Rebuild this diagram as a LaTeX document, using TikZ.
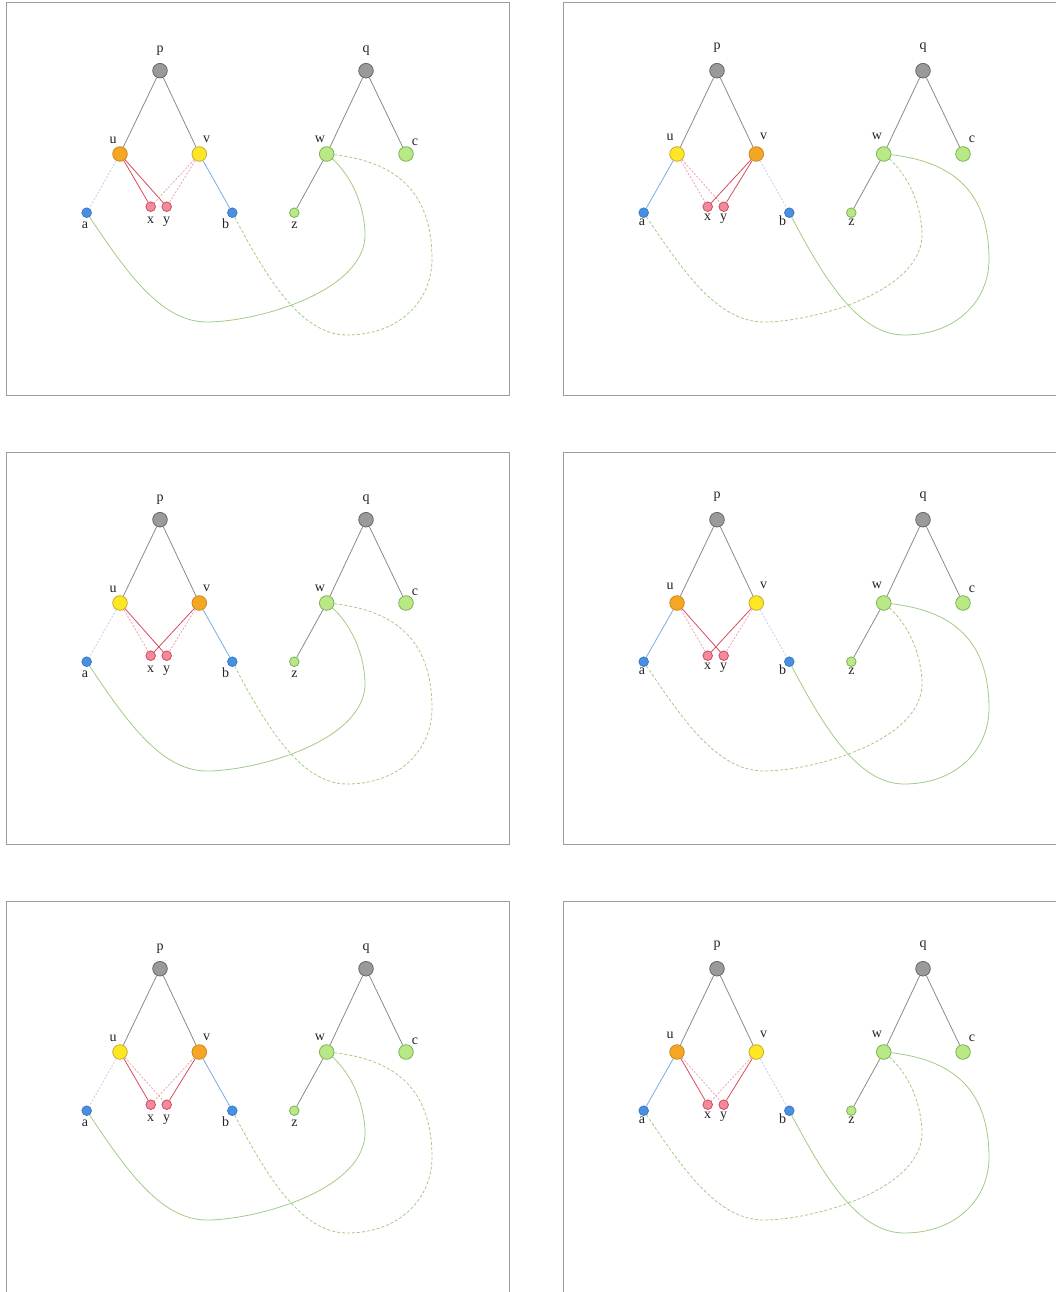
\documentclass[tikz,border=0pt]{standalone}
\usepackage{fontspec}
\setmainfont{Liberation Serif}
\pgfdeclarelayer{bg}
\pgfsetlayers{bg,main}
\definecolor{nGray}{HTML}{9A9A9A}
\definecolor{nGrayD}{HTML}{666666}
\definecolor{nOrange}{HTML}{F5A623}
\definecolor{nOrangeD}{HTML}{C98A22}
\definecolor{nYellow}{HTML}{FDE624}
\definecolor{nYellowD}{HTML}{C9A930}
\definecolor{nGreen}{HTML}{B8E986}
\definecolor{nGreenD}{HTML}{7DB155}
\definecolor{nBlue}{HTML}{4A90E2}
\definecolor{nBlueD}{HTML}{3A78C6}
\definecolor{nPink}{HTML}{F28A9B}
\definecolor{nPinkD}{HTML}{D4495E}
\definecolor{eGray}{HTML}{8A8A8A}
\definecolor{eRed}{HTML}{D94A5C}
\definecolor{eRedL}{HTML}{EDA3AD}
\definecolor{eBlue}{HTML}{7BAAE3}
\definecolor{eBlueL}{HTML}{B9D2F0}
\definecolor{eGreen}{HTML}{A2CB84}
\definecolor{frameC}{HTML}{9C9C9C}
\definecolor{txt}{HTML}{222222}
\tikzset{
  big/.style={circle, minimum size=14.6pt, inner sep=0pt, line width=0.8pt},
  small/.style={circle, minimum size=9.6pt, inner sep=0pt, line width=0.8pt},
  graynode/.style={big, fill=nGray, draw=nGrayD},
  orangenode/.style={big, fill=nOrange, draw=nOrangeD},
  yellownode/.style={big, fill=nYellow, draw=nYellowD},
  greennode/.style={big, fill=nGreen, draw=nGreenD},
  smallgreen/.style={small, fill=nGreen, draw=nGreenD},
  bluenode/.style={small, fill=nBlue, draw=nBlueD},
  pinknode/.style={small, fill=nPink, draw=nPinkD},
  lbl/.style={font=\fontsize{14}{14}\selectfont, text=txt, inner sep=0pt, anchor=base},
  tree/.style={draw=eGray, line width=0.8pt},
  redS/.style={draw=eRed, line width=0.8pt},
  redD/.style={draw=eRedL, line width=0.8pt, dash pattern=on 2pt off 1.6pt},
  blueS/.style={draw=eBlue, line width=0.8pt},
  blueD/.style={draw=eBlueL, line width=0.8pt, dash pattern=on 2pt off 1.6pt},
  greenS/.style={draw=eGreen, line width=0.8pt},
  greenD/.style={draw=eGreen, line width=0.8pt, dash pattern=on 3pt off 2pt},
  frame/.style={draw=frameC, line width=1pt},
}
% #1 x offset, #2 y offset, #3 label shift
\newcommand\drawpanel[3]{%
\begin{scope}[shift={(#1,#2)}]
  \draw[frame] (6,3) rectangle (509,395);
  \node[graynode] (p) at (160,70.7) {};
  \node[graynode] (q) at (366,70.7) {};
  \node[ucol] (u) at (120,154) {};
  \node[vcol] (v) at (199.3,154) {};
  \node[greennode] (w) at (326.7,154) {};
  \node[greennode] (c) at (406,154) {};
  \node[bluenode] (a) at (86.7,212.7) {};
  \node[pinknode] (x) at (150.7,206.7) {};
  \node[pinknode] (y) at (166.7,206.7) {};
  \node[bluenode] (b) at (232.3,212.7) {};
  \node[smallgreen] (z) at (294.3,212.7) {};
  \node[lbl] (pl) at (160,{52.7+#3}) {p};
  \node[lbl] (ql) at (366,{52.7+#3}) {q};
  \node[lbl] (ul) at (113,{143.3+#3}) {u};
  \node[lbl] (vl) at (206.6,{142.8+#3}) {v};
  \node[lbl] (wl) at (320,{142.8+#3}) {w};
  \node[lbl] (cl) at (415,{146+#3}) {c};
  \node[lbl] (al) at (85,{228.3+#3}) {a};
  \node[lbl] (xl) at (150.7,{223.3+#3}) {x};
  \node[lbl] (yl) at (166.7,{223.3+#3}) {y};
  \node[lbl] (bl) at (225.7,{228.3+#3}) {b};
  \node[lbl] (zl) at (294.5,{228.3+#3}) {z};
  \draw[tree] (p) -- (u);
  \draw[tree] (p) -- (v);
  \draw[tree] (q) -- (w);
  \draw[tree] (q) -- (c);
  \draw[tree] (w) -- (z);
  \draw[eux] (u) -- (x);
  \draw[euy] (u) -- (y);
  \draw[evx] (v) -- (x);
  \draw[evy] (v) -- (y);
  \draw[eua] (u) -- (a);
  \draw[evb] (v) -- (b);
  \begin{pgfonlayer}{bg}
    \draw[cva] (a.center) .. controls (125,270) and (160,322) .. (207,322)
      .. controls (255,322) and (368,292) .. (365,232)
      .. controls (363.5,202) and (350,172) .. (w.center);
    \draw[cvb] (b.center) .. controls (265,275) and (300,335) .. (347,335)
      .. controls (400,335) and (433,300) .. (432,257)
      .. controls (431,195) and (400,160) .. (w.center);
  \end{pgfonlayer}
\end{scope}}
\begin{document}
\begin{tikzpicture}[x=1pt, y=-1pt]
  \useasboundingbox (0,0) rectangle (1056,1292);
  \clip (0,0) rectangle (1056,1292);
  % panel 1
  \tikzset{ucol/.style=orangenode, vcol/.style=yellownode,
    eux/.style=redS, euy/.style=redS, evx/.style=redD, evy/.style=redD,
    eua/.style=blueD, evb/.style=blueS, cva/.style=greenS, cvb/.style=greenD}
  \drawpanel{0}{0}{0}
  % panel 2
  \tikzset{ucol/.style=yellownode, vcol/.style=orangenode,
    eux/.style=redD, euy/.style=redD, evx/.style=redS, evy/.style=redS,
    eua/.style=blueS, evb/.style=blueD, cva/.style=greenD, cvb/.style=greenS}
  \drawpanel{557}{0}{-3}
  % panel 3
  \tikzset{ucol/.style=yellownode, vcol/.style=orangenode,
    eux/.style=redD, euy/.style=redS, evx/.style=redS, evy/.style=redD,
    eua/.style=blueD, evb/.style=blueS, cva/.style=greenS, cvb/.style=greenD}
  \drawpanel{0}{449}{0}
  % panel 4
  \tikzset{ucol/.style=orangenode, vcol/.style=yellownode,
    eux/.style=redD, euy/.style=redS, evx/.style=redS, evy/.style=redD,
    eua/.style=blueS, evb/.style=blueD, cva/.style=greenD, cvb/.style=greenS}
  \drawpanel{557}{449}{-3}
  % panel 5
  \tikzset{ucol/.style=yellownode, vcol/.style=orangenode,
    eux/.style=redS, euy/.style=redD, evx/.style=redD, evy/.style=redS,
    eua/.style=blueD, evb/.style=blueS, cva/.style=greenS, cvb/.style=greenD}
  \drawpanel{0}{898}{0}
  % panel 6
  \tikzset{ucol/.style=orangenode, vcol/.style=yellownode,
    eux/.style=redS, euy/.style=redD, evx/.style=redD, evy/.style=redS,
    eua/.style=blueS, evb/.style=blueD, cva/.style=greenD, cvb/.style=greenS}
  \drawpanel{557}{898}{-3}
\end{tikzpicture}
\end{document}
